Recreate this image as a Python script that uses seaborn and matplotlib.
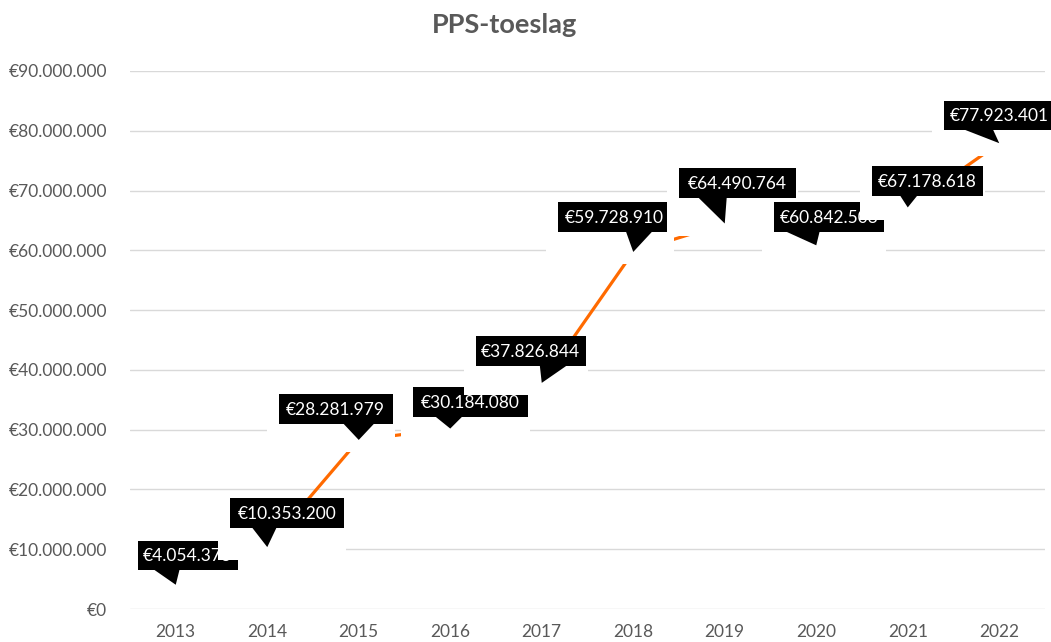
import numpy as np
import pandas as pd
import matplotlib
matplotlib.use("Agg")
import matplotlib.pyplot as plt
import seaborn as sns
from matplotlib.patches import Rectangle, Polygon
from matplotlib.transforms import IdentityTransform

# ---- data ----
years = ["2013", "2014", "2015", "2016", "2017", "2018", "2019", "2020", "2021", "2022"]
values = [4054373, 10353200, 28281979, 30184080, 37826844,
          59728910, 64490764, 60842503, 67178618, 77923401]
y_ticks = [0, 10_000_000, 20_000_000, 30_000_000, 40_000_000,
           50_000_000, 60_000_000, 70_000_000, 80_000_000, 90_000_000]

# ---- label layout (pixel offsets from each data point, image-down) ----
# box: (left, right, top, bottom); tail base: (x0, x1)
box_off = [(-38, 62, -44, -15), (-37.5, 76.5, -49, -19), (-80, 34, -46, -16),
           (-37.5, 77.5, -41.5, -11.5), (-66, 44, -47, -17), (-75.5, 38.5, -50, -20),
           (-46, 71, -55.5, -25.5), (-42.5, 67.5, -43.3, -13.3), (-36, 75, -41.4, -11.4),
           (-55.5, 58.5, -42.2, -13.2)]
tail_off = [(-23, 4), (-15.5, 9.5), (-16, 16), (-15.5, 12.5), (-2, 26), (-7.5, 19.5),
            (-27, 2), (-31.5, 3.5), (-8, 10), (-36.5, -6.5)]

def euro(v):
    return "€" + f"{v:,}".replace(",", ".")

sns.set_theme(style="white")
plt.rcParams["font.family"] = ["Lato", "DejaVu Sans"]

W, H = 1051, 642
fig = plt.figure(figsize=(W / 100, H / 100), dpi=100)
ax = fig.add_axes([130 / W, 33 / H, 915 / W, 538 / H])

df = pd.DataFrame({"year": years, "value": values})
sns.lineplot(data=df, x="year", y="value", ax=ax, color="#FF6A00",
             linewidth=2.3, zorder=2)

ax.set_xlim(-0.5, len(years) - 0.5)
ax.set_ylim(0, 90_000_000)
ax.set_yticks(y_ticks)
ax.set_yticklabels([euro(t) for t in y_ticks])
ax.yaxis.grid(True, color="#d9d9d9", linewidth=1)
ax.xaxis.grid(False)
for s in ax.spines.values():
    s.set_visible(False)
ax.tick_params(axis="y", length=0, pad=16.5, labelsize=12.5, labelcolor="#595959")
ax.tick_params(axis="x", length=0, pad=11, labelsize=12.5, labelcolor="#595959")
ax.set_xlabel("")
ax.set_ylabel("")

fig.text(504 / W, 1 - 25 / H, "PPS-toeslag", ha="center", va="center",
         fontsize=19.5, fontweight="bold", color="#595959")

ident = IdentityTransform()
for i, v in enumerate(values):
    px, py = ax.transData.transform((i, v))
    l, r, t, b = box_off[i]
    z = 10 + 3 * i
    # white mask
    ax.add_patch(Rectangle((px + l - 12, py - 12.5), (r + 2.5) - (l - 12), 12.5 - t,
                           transform=ident, facecolor="white", edgecolor="none",
                           zorder=z, clip_on=False))
    # black box
    ax.add_patch(Rectangle((px + l, py - b), r - l, b - t, transform=ident,
                           facecolor="black", edgecolor="none", zorder=z + 1, clip_on=False))
    # tail
    bx0, bx1 = tail_off[i]
    ax.add_patch(Polygon([(px + bx0, py - b + 1), (px + bx1, py - b + 1), (px, py)],
                         closed=True, transform=ident, facecolor="black",
                         edgecolor="none", zorder=z + 1, clip_on=False))
    cx = min(px + (l + r) / 2, W - 52)
    ax.text(cx, py - (t + b) / 2 - 1, euro(v), transform=ident,
            ha="center", va="center", color="white", fontsize=12.5,
            zorder=z + 2, clip_on=False)

fig.savefig("out.png", dpi=100)
